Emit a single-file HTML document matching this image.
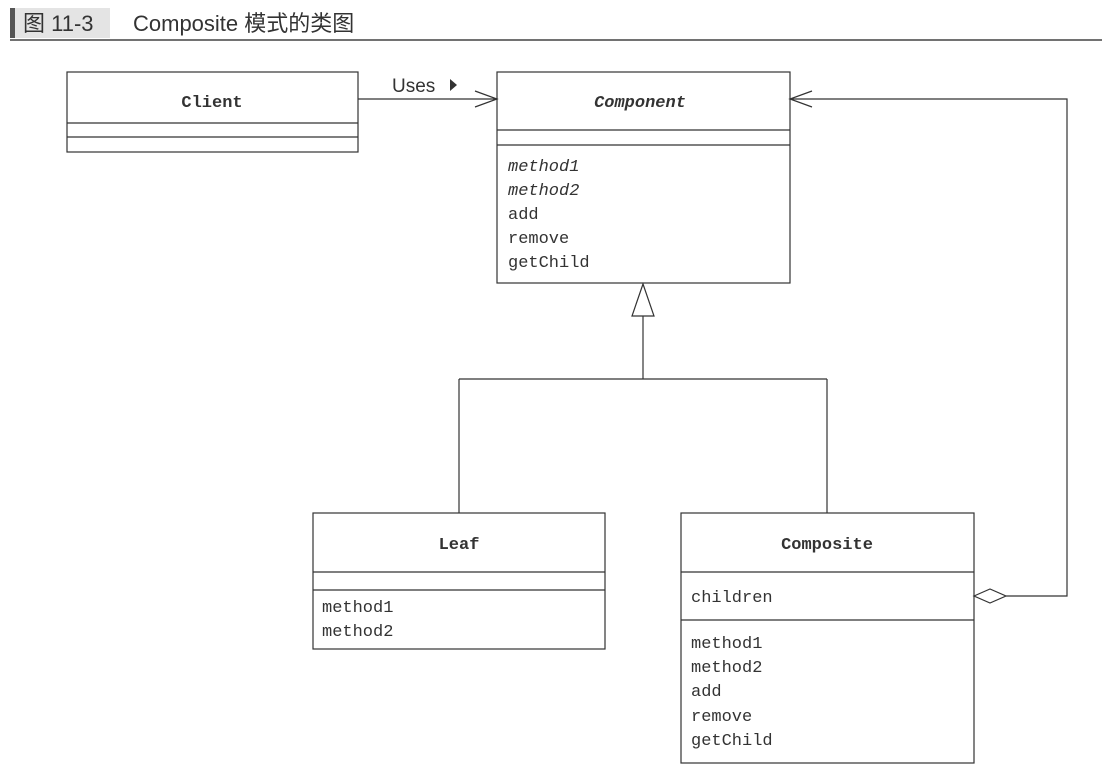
<!DOCTYPE html>
<html><head><meta charset="utf-8"><style>
html,body{margin:0;padding:0;background:#fff;}
body{width:1102px;height:770px;position:relative;overflow:hidden;}
</style></head><body>
<svg width="1102" height="770" xmlns="http://www.w3.org/2000/svg" style="position:absolute;left:0;top:0">
<rect x="10" y="8" width="5" height="30" fill="#555"/>
<rect x="15" y="8" width="95" height="30" fill="#e4e4e4"/>
<text x="23" y="31" font-family="Liberation Sans, Noto Sans CJK SC, sans-serif" font-size="22" fill="#333">图 11-3</text>
<text x="133" y="31" font-family="Liberation Sans, Noto Sans CJK SC, sans-serif" font-size="22" fill="#333">Composite 模式的类图</text>
<line x1="10" y1="40" x2="1102" y2="40" stroke="#444" stroke-width="1.5"/>
<g fill="none" stroke="#333" stroke-width="1.2">
<rect x="67" y="72" width="291" height="80"/>
<line x1="67" y1="123" x2="358" y2="123"/><line x1="67" y1="137" x2="358" y2="137"/>
<rect x="497" y="72" width="293" height="211"/>
<line x1="497" y1="130" x2="790" y2="130"/><line x1="497" y1="145" x2="790" y2="145"/>
<rect x="313" y="513" width="292" height="136"/>
<line x1="313" y1="572" x2="605" y2="572"/><line x1="313" y1="590" x2="605" y2="590"/>
<rect x="681" y="513" width="293" height="250"/>
<line x1="681" y1="572" x2="974" y2="572"/><line x1="681" y1="620" x2="974" y2="620"/>
<line x1="358" y1="99" x2="497" y2="99"/>
<polyline points="475,91 497,99 475,107"/>
<polygon points="643,284 632,316 654,316" fill="#fff"/>
<line x1="643" y1="316" x2="643" y2="379"/>
<line x1="459" y1="379" x2="827" y2="379"/>
<line x1="459" y1="379" x2="459" y2="513"/>
<line x1="827" y1="379" x2="827" y2="513"/>
<polygon points="974,596 990,589 1006,596 990,603" fill="#fff"/>
<polyline points="1006,596 1067,596 1067,99 790,99"/>
<polyline points="812,91 790,99 812,107"/>
</g>
<polygon points="450,79 450,91 457,85" fill="#333"/>
<text x="392" y="92" font-family="Liberation Sans, sans-serif" font-size="19" fill="#333">Uses</text>
<g font-family="Liberation Mono, monospace" fill="#333">
<text x="212" y="107" font-size="17" font-weight="bold" text-anchor="middle">Client</text>
<text x="640" y="107" font-size="17" font-weight="bold" font-style="italic" text-anchor="middle">Component</text>
<text x="459" y="549" font-size="17" font-weight="bold" text-anchor="middle">Leaf</text>
<text x="827" y="549" font-size="17" font-weight="bold" text-anchor="middle">Composite</text>
<g font-size="17">
<text x="508" y="171" font-style="italic">method1</text>
<text x="508" y="195" font-style="italic">method2</text>
<text x="508" y="219">add</text>
<text x="508" y="243">remove</text>
<text x="508" y="267">getChild</text>
<text x="322" y="612">method1</text>
<text x="322" y="636">method2</text>
<text x="691" y="602">children</text>
<text x="691" y="648">method1</text>
<text x="691" y="672">method2</text>
<text x="691" y="696">add</text>
<text x="691" y="721">remove</text>
<text x="691" y="745">getChild</text>
</g></g>
</svg>
</body></html>
